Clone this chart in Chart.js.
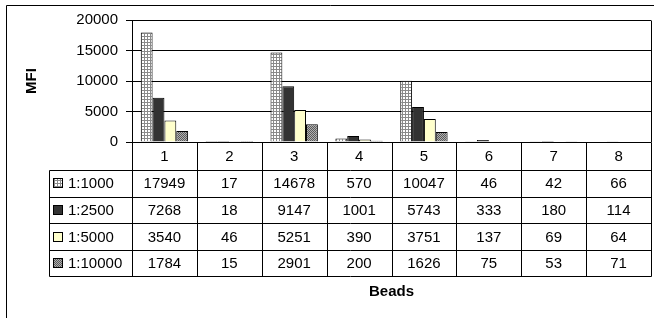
<!DOCTYPE html>
<html>
<head>
<meta charset="utf-8">
<script src="https://cdn.jsdelivr.net/npm/chart.js@4.4.1/dist/chart.umd.min.js"></script>
<style>
  html, body { margin: 0; padding: 0; background: #fff; }
  #wrap { width: 654px; height: 318px; }
</style>
</head>
<body>
<div id="wrap"><canvas id="c" width="654" height="318"></canvas></div>
<script>
"use strict";

// ---------------- data ----------------
const beads = ["1", "2", "3", "4", "5", "6", "7", "8"];
const seriesNames = ["1:1000", "1:2500", "1:5000", "1:10000"];
const s1000 = [17949, 17, 14678, 570, 10047, 46, 42, 66];
const s2500 = [7268, 18, 9147, 1001, 5743, 333, 180, 114];
const s5000 = [3540, 46, 5251, 390, 3751, 137, 69, 64];
const s10000 = [1784, 15, 2901, 200, 1626, 75, 53, 71];
const yMax = 20000, yStep = 5000;

const FONT = "'Liberation Sans', Arial, sans-serif";

// ---------------- fill patterns (Excel-ish) ----------------
function makePattern(size, draw) {
  const cv = document.createElement("canvas");
  cv.width = size; cv.height = size;
  const g = cv.getContext("2d");
  draw(g);
  return g.createPattern(cv, "repeat");
}
const gridFill = makePattern(3, (g) => {
  g.fillStyle = "#ffffff"; g.fillRect(0, 0, 3, 3);
  g.fillStyle = "#8a8a8a"; g.fillRect(0, 0, 3, 1); g.fillRect(0, 0, 1, 3);
});
const dotFill = makePattern(2, (g) => {
  g.fillStyle = "#b0b0b0"; g.fillRect(0, 0, 2, 2);
  g.fillStyle = "#5a5a5a"; g.fillRect(0, 0, 1, 1); g.fillRect(1, 1, 1, 1);
});
const fills = [gridFill, "#333333", "#ffffcc", dotFill];
const values = [s1000, s2500, s5000, s10000];

// ---------------- data table + frame ----------------
const px = (v) => Math.round(v) + 0.5;

const tablePlugin = {
  id: "dataTable",
  afterDraw(chart) {
    const { ctx, chartArea: a, scales: { x } } = chart;
    const colW = x.width / beads.length;
    const top = a.bottom, headH = 28, rowH = 26.6;
    const legLeft = 49;
    const rowsBottom = top + headH + rowH * seriesNames.length;
    const line = (x1, y1, x2, y2) => {
      ctx.beginPath(); ctx.moveTo(x1, y1); ctx.lineTo(x2, y2); ctx.stroke();
    };
    ctx.save();
    ctx.strokeStyle = "#000"; ctx.lineWidth = 1;

    // outer chart frame (only left/top visible)
    line(px(6), px(5), 700, px(5));
    line(px(6), px(5), px(6), 400);

    // plot area right edge
    line(px(a.right), px(a.top), px(a.right), px(a.bottom));

    // table horizontals
    for (let r = 0; r <= seriesNames.length; r++) {
      const yy = px(top + headH + rowH * r);
      line(px(legLeft), yy, px(a.right), yy);
    }

    // table verticals
    for (let i = 0; i <= beads.length; i++) {
      const xx = px(a.left + colW * i);
      line(xx, px(top), xx, px(rowsBottom));
    }
    line(px(legLeft), px(top + headH), px(legLeft), px(rowsBottom));

    // texts
    ctx.fillStyle = "#000";
    ctx.font = "15px " + FONT;
    ctx.textAlign = "center"; ctx.textBaseline = "middle";
    beads.forEach((b, i) => ctx.fillText(b, x.getPixelForValue(i), top + headH / 2 + 1));
    values.forEach((arr, r) => {
      const yMid = top + headH + rowH * r + rowH / 2 + 1;
      arr.forEach((v, i) => ctx.fillText(String(v), x.getPixelForValue(i), yMid));
      // legend key + name
      const ky = Math.round(yMid - 5);
      ctx.fillStyle = fills[r];
      ctx.fillRect(54, ky, 8, 8);
      ctx.strokeRect(53.5, ky - 0.5, 9, 9);
      ctx.fillStyle = "#000";
      ctx.textAlign = "left";
      ctx.fillText(seriesNames[r], 68, yMid);
      ctx.textAlign = "center";
    });

    // x title
    ctx.font = "bold 15px " + FONT;
    ctx.fillText("Beads", (a.left + a.right) / 2, 292);
    ctx.restore();
  },
};

new Chart(document.getElementById("c"), {
  type: "bar",
  data: {
    labels: beads,
    datasets: seriesNames.map((name, i) => ({
      label: name,
      data: values[i],
      backgroundColor: fills[i],
      borderColor: "#000",
      borderWidth: 1,
      borderSkipped: "bottom",
      barPercentage: 1,
      categoryPercentage: 0.73,
    })),
  },
  options: {
    responsive: false,
    animation: false,
    devicePixelRatio: 1,
    layout: { padding: { left: 0, top: 20, right: 3, bottom: 176 } },
    plugins: { legend: { display: false }, tooltip: { enabled: false } },
    scales: {
      x: { display: false },
      y: {
        min: 0, max: yMax,
        afterFit: (s) => { s.width = 132; },
        ticks: {
          stepSize: yStep, padding: 8, color: "#000",
          font: { family: FONT, size: 15 },
          callback: (v) => String(v),
        },
        grid: { color: "#000", lineWidth: 1, tickLength: 6 },
        border: { display: true, color: "#000", width: 1 },
        title: {
          display: true, text: "MFI", color: "#000",
          font: { family: FONT, size: 15, weight: "bold" },
          padding: { top: 23, bottom: 0 },
        },
      },
    },
  },
  plugins: [tablePlugin],
});
</script>
</body>
</html>
